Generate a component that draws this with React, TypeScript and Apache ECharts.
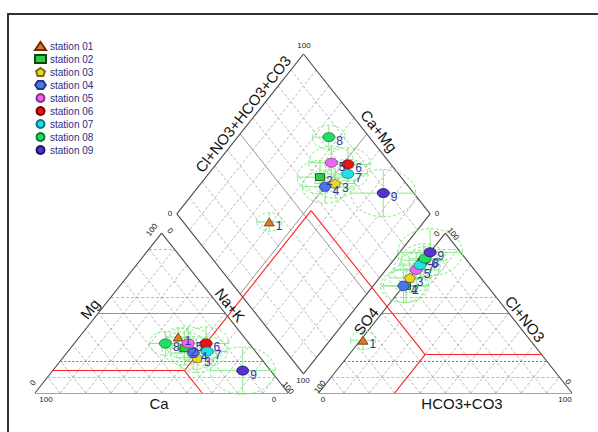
import React, { useEffect, useRef } from "react";
import * as echarts from "echarts";

// ---------------- data ----------------
const stationNames = ["station 01", "station 02", "station 03", "station 04", "station 05", "station 06", "station 07", "station 08", "station 09"];
const stationNumbers = ["1", "2", "3", "4", "5", "6", "7", "8", "9"];
// cations (% meq)
const caPct = [26, 27, 25, 25, 24, 17, 19, 33, 11];
const mgPct = [35, 28, 22, 25, 31, 31, 26, 31, 14];
const naKPct = [39, 45, 53, 50, 45, 52, 55, 36, 75];
// anions (% meq)
const clNo3Pct = [33, 67, 72, 67, 77, 83, 80, 84, 88];
const hco3Pct = [1, 1, 0, 0, 0, 0, 0, 0, 0];
const so4Pct = clNo3Pct.map((c, i) => 100 - c - hco3Pct[i]);
// uncertainty radius (%)
const uncertaintyPct = [5, 9, 8, 9, 9, 9, 8, 6.5, 12.8];
// grid / boundary levels (%)
const gridLevels = [10, 20, 30, 40, 50, 60, 70, 80, 90];
const horizontalLevels = [10, 20, 50, 60, 90];
const cationBoundaryNaK = [52];
const cationBoundaryMg = [14];
const anionBoundarySo4 = [46];
const anionBoundaryCl = [24];

// ---------------- styles ----------------
const fillColors = ["#e07a28", "#2ecc40", "#e8d82a", "#4f74e8", "#ee66ee", "#ee1111", "#22e0e8", "#22dd66", "#5533cc"];
const borderColors = ["#6a3008", "#124412", "#7a6a10", "#22398a", "#883388", "#7a0000", "#117777", "#117733", "#221166"];
const PENTAGON = "path://M5,0 L10,3.6 L8.2,9 L1.8,9 L0,3.6 Z";
const HEXAGON = "path://M3,0 L9,0 L12,4.5 L9,9 L3,9 L0,4.5 Z";
const symbols = ["triangle", "rect", PENTAGON, HEXAGON, "circle", "circle", "circle", "circle", "circle"];
const symbolSizes: any[] = [[10, 8], [9, 7], [11, 9], [12, 9], [12, 9], [12, 9], [12, 9], [12, 9], [12, 9]];
const FONT = "Liberation Sans, Arial, sans-serif";

// ---------------- geometry ----------------
const SQ3 = Math.sqrt(3);
const SIDE = 100;
const GAP = 12;
const H = (SIDE * SQ3) / 2;
const AX0 = SIDE + GAP;
const BX = SIDE + GAP / 2;
const BY = (GAP / 2) * SQ3;
const XMAX = 2 * SIDE + GAP;
const YMAX = BY + 2 * H;

const cat = (na: number, mg: number) => [na + mg / 2, (mg / 100) * H];
const ani = (hco3: number, cl: number) => [AX0 + hco3 + cl / 2, (cl / 100) * H];
const dia = (na: number, so4: number) => {
  const a = 1 - na / 100;
  const b = 1 - so4 / 100;
  return [BX + (SIDE / 2) * (b - a), BY + H * (a + b)];
};

function buildOption() {
  const dashSegs: number[][][] = [];
  const solidGrey: number[][][] = [];
  const darkDot: number[][][] = [];
  // triangles diagonals
  gridLevels.forEach((f) => {
    dashSegs.push([cat(f, 0), cat(f, 100 - f)]);
    dashSegs.push([cat(100 - f, 0), cat(0, 100 - f)]);
    dashSegs.push([ani(f, 0), ani(f, 100 - f)]);
    dashSegs.push([ani(100 - f, 0), ani(0, 100 - f)]);
  });
  horizontalLevels.forEach((m) => {
    const l = [cat(0, m), cat(100 - m, m)];
    const r = [ani(0, m), ani(100 - m, m)];
    if (m === 50) { solidGrey.push(l, r); }
    else if (m === 20) { darkDot.push(l, r); }
    else { dashSegs.push(l, r); }
  });
  // diamond
  gridLevels.forEach((f) => {
    const s1 = [dia(f, 0), dia(f, 100)];
    const s2 = [dia(0, f), dia(100, f)];
    if (f === 50) solidGrey.push(s1, s2);
    else dashSegs.push(s1, s2);
  });
  const outline: number[][][] = [
    [cat(0, 0), cat(100, 0)], [cat(100, 0), cat(0, 100)], [cat(0, 100), cat(0, 0)],
    [ani(0, 0), ani(100, 0)], [ani(100, 0), ani(0, 100)], [ani(0, 100), ani(0, 0)],
    [dia(0, 0), dia(100, 0)], [dia(100, 0), dia(100, 100)], [dia(100, 100), dia(0, 100)], [dia(0, 100), dia(0, 0)],
  ];
  // red boundaries
  const cn = cationBoundaryNaK[0], cm = cationBoundaryMg[0];
  const as = anionBoundarySo4[0], ac = anionBoundaryCl[0];
  const ah = 100 - as - ac;
  const peak = dia(cn, as);
  const red: number[][][] = [
    [cat(0, cm), cat(cn, cm)],
    [cat(cn, cm), cat(cn + cm, 0)],
    [cat(cn, cm), peak],
    [ani(100 - ac, ac), ani(ah, ac)],
    [ani(ah, ac), ani(ah, 0)],
    [ani(ah, ac), peak],
  ];

  const linesSeries = (segs: number[][][], color: string, width: number, type: any, z: number) => ({
    type: "lines",
    coordinateSystem: "cartesian2d",
    silent: true,
    z,
    data: segs.map((s) => ({ coords: s })),
    lineStyle: { color, width, type, opacity: 1 },
  });

  const stationPoints = stationNames.map((_, i) => [
    cat(naKPct[i], mgPct[i]),
    ani(hco3Pct[i], clNo3Pct[i]),
    dia(naKPct[i], so4Pct[i]),
  ]);

  const ellipseData: number[][] = [];
  stationPoints.forEach((pts, i) => pts.forEach((p) => ellipseData.push([p[0], p[1], uncertaintyPct[i]])));

  const series: any[] = [
    linesSeries(dashSegs, "#a8a8a8", 0.8, [3, 2], 1),
    linesSeries(darkDot, "#555555", 0.8, [2, 2], 1),
    linesSeries(solidGrey, "#8a8a8a", 0.9, "solid", 1),
    linesSeries(outline, "#4a4a4a", 1.1, "solid", 2),
    linesSeries(red, "#ff2020", 1.1, "solid", 3),
    {
      type: "custom",
      coordinateSystem: "cartesian2d",
      silent: true,
      z: 4,
      encode: { x: 0, y: 1 },
      data: ellipseData,
      renderItem: (_p: any, api: any) => {
        const c = api.coord([api.value(0), api.value(1)]);
        const s = api.size([api.value(2), api.value(2)]);
        const st = { stroke: "#86ec86", lineWidth: 1, fill: "none" };
        return {
          type: "group",
          children: [
            { type: "ellipse", shape: { cx: c[0], cy: c[1], rx: s[0], ry: s[1] }, style: { ...st, lineDash: [3, 2] } },
            { type: "line", shape: { x1: c[0] - s[0], y1: c[1], x2: c[0] + s[0], y2: c[1] }, style: st },
            { type: "line", shape: { x1: c[0], y1: c[1] - s[1], x2: c[0], y2: c[1] + s[1] }, style: st },
          ],
        };
      },
    },
  ];

  stationNames.forEach((name, i) => {
    series.push({
      type: "scatter",
      name,
      z: 10,
      symbol: symbols[i],
      symbolSize: symbolSizes[i],
      data: stationPoints[i],
      itemStyle: { color: fillColors[i], borderColor: borderColors[i], borderWidth: 0.8, opacity: 1 },
      label: {
        show: true,
        formatter: stationNumbers[i],
        position: "right",
        distance: 1,
        offset: [0, 4],
        color: "#3535a5",
        fontSize: 12,
        fontFamily: FONT,
      },
    });
  });

  const rot = Math.atan((339 / YMAX) * H / ((537 / XMAX) * (SIDE / 2)));
  const txt = (text: string, x: number, y: number, size: number, rotation = 0) => ({
    type: "text",
    x,
    y,
    rotation,
    z: 20,
    silent: true,
    style: {
      text,
      fill: "#151515",
      fontSize: size,
      fontFamily: FONT,
      align: "center",
      verticalAlign: "middle",
      textAlign: "center",
      textVerticalAlign: "middle",
    },
  });

  const graphic: any[] = [
    { type: "rect", z: 0, silent: true, shape: { x: 8, y: 14, width: 600, height: 430 }, style: { fill: "none", stroke: "#333", lineWidth: 2 } },
    txt("Cl+NO3+HCO3+CO3", 243, 114, 15, rot),
    txt("Ca+Mg", 379, 131, 15, -rot),
    txt("Mg", 90, 309, 15, rot),
    txt("Na+K", 230, 305, 15, -rot),
    txt("Ca", 159, 403, 15),
    txt("SO4", 366, 321, 15, rot),
    txt("Cl+NO3", 525, 319, 15, -rot),
    txt("HCO3+CO3", 462, 403, 15),
    txt("100", 304, 45, 8),
    txt("0", 170, 213, 8),
    txt("0", 437, 213, 8),
    txt("100", 303, 380, 8),
    txt("100", 46, 399, 8),
    txt("0", 274, 399, 8),
    txt("0", 33, 383, 8, rot),
    txt("100", 152, 230, 8, rot),
    txt("0", 170, 231, 8, -rot),
    txt("100", 288, 388, 8, -rot),
    txt("0", 323, 399, 8),
    txt("100", 565, 399, 8),
    txt("100", 320, 387, 8, rot),
    txt("0", 437, 234, 8, rot),
    txt("100", 453, 234, 8, -rot),
    txt("0", 568, 382, 8, -rot),
  ];

  return {
    animation: false,
    grid: { left: 35, right: 598 - 572, top: 54, bottom: 432 - 393, containLabel: false },
    xAxis: { type: "value", min: 0, max: XMAX, show: false },
    yAxis: { type: "value", min: 0, max: YMAX, show: false },
    legend: {
      orient: "vertical",
      left: 29,
      top: 36,
      itemGap: 3,
      itemWidth: 11,
      itemHeight: 8,
      data: stationNames,
      textStyle: { fontSize: 10, color: "#2c2c8c", fontFamily: FONT, padding: [0, 0, 0, -1] },
    },
    series,
    graphic,
  };
}

export default function App() {
  const ref = useRef<HTMLDivElement>(null);
  useEffect(() => {
    if (!ref.current) return;
    const chart = echarts.init(ref.current, undefined, { renderer: "svg" });
    chart.setOption(buildOption() as any);
    return () => chart.dispose();
  }, []);
  return (
    <div
      ref={ref}
      style={{ position: "fixed", left: 0, top: 0, width: 598, height: 432, background: "#fff" }}
    />
  );
}
